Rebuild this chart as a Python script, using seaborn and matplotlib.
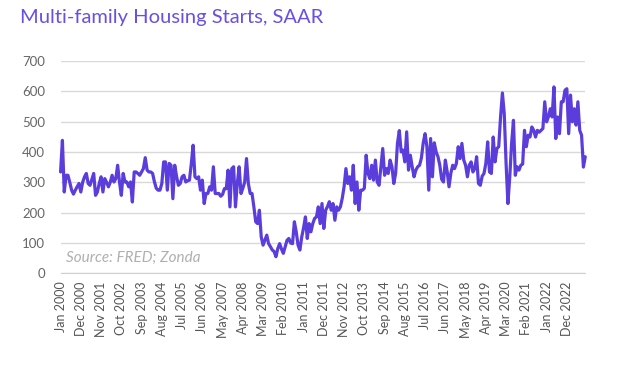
import numpy as np
import pandas as pd
import matplotlib
matplotlib.use("Agg")
import matplotlib.pyplot as plt
import seaborn as sns

# monthly multi-family starts (thousands, SAAR), Jan 2000 - Oct 2023
y2000 = [334, 438, 268, 323, 323, 300, 274, 261, 274, 285, 296, 268]
y2001 = [300, 318, 329, 296, 290, 310, 329, 257, 268, 296, 318, 268]
y2002 = [312, 300, 285, 300, 323, 301, 312, 356, 301, 257, 329, 301]
y2003 = [301, 285, 301, 235, 334, 334, 329, 323, 334, 345, 381, 340]
y2004 = [334, 334, 329, 301, 280, 274, 274, 296, 367, 367, 274, 362]
y2005 = [356, 246, 356, 320, 290, 296, 318, 323, 301, 305, 307, 360]
y2006 = [422, 318, 312, 318, 274, 307, 230, 263, 263, 285, 274, 351]
y2007 = [263, 263, 263, 254, 260, 279, 279, 340, 219, 345, 351, 219]
y2008 = [296, 351, 263, 280, 300, 378, 296, 263, 263, 219, 170, 164]
y2009 = [208, 120, 93, 110, 126, 98, 88, 77, 72, 55, 82, 98]
y2010 = [80, 66, 88, 109, 115, 100, 98, 170, 137, 93, 77, 120]
y2011 = [150, 186, 115, 164, 137, 164, 181, 186, 219, 164, 230, 148]
y2012 = [208, 220, 236, 208, 230, 175, 219, 208, 219, 247, 285, 345]
y2013 = [296, 318, 274, 356, 230, 301, 208, 274, 274, 280, 389, 329]
y2014 = [312, 356, 307, 373, 301, 290, 350, 411, 323, 345, 329, 373]
y2015 = [351, 296, 329, 428, 470, 400, 406, 367, 466, 340, 389, 351]
y2016 = [318, 340, 351, 356, 380, 430, 460, 417, 274, 444, 318, 430]
y2017 = [400, 384, 356, 310, 301, 373, 335, 285, 330, 356, 345, 362]
y2018 = [417, 378, 428, 373, 356, 318, 356, 367, 334, 345, 384, 296]
y2019 = [290, 320, 329, 362, 433, 334, 329, 449, 367, 411, 417, 515]
y2020 = [594, 526, 362, 230, 318, 428, 504, 323, 351, 340, 356, 360]
y2021 = [471, 417, 455, 449, 482, 471, 449, 471, 465, 471, 477, 565]
y2022 = [499, 515, 542, 515, 614, 444, 515, 460, 565, 565, 603, 608]
y2023 = [460, 587, 499, 542, 488, 565, 471, 455, 350, 384]

starts = (y2000 + y2001 + y2002 + y2003 + y2004 + y2005 + y2006 + y2007
          + y2008 + y2009 + y2010 + y2011 + y2012 + y2013 + y2014 + y2015
          + y2016 + y2017 + y2018 + y2019 + y2020 + y2021 + y2022 + y2023)
months = pd.date_range("2000-01-01", periods=len(starts), freq="MS")
y_ticks = [0, 100, 200, 300, 400, 500, 600, 700]

df = pd.DataFrame({"idx": np.arange(len(starts)), "starts": starts})
tick_pos = list(range(0, len(starts), 11))
tick_labels = [months[i].strftime("%b %Y") for i in tick_pos]

sns.set_style("white")
plt.rcParams["font.family"] = ["Lato", "DejaVu Sans"]

purple = "#5b3ddb"
fig = plt.figure(figsize=(6.18, 3.66), dpi=100)
ax = fig.add_axes([0.098, 0.253, 0.849, 0.581])

sns.lineplot(data=df, x="idx", y="starts", color=purple, linewidth=2.3,
             ax=ax, clip_on=False, solid_joinstyle="round")

ax.set_xlim(0, len(starts) - 1)
ax.set_ylim(0, 700)
ax.set_yticks(y_ticks)
ax.yaxis.grid(True, color="#d9d9d9", linewidth=1)
ax.set_xticks(tick_pos)
ax.set_xticklabels(tick_labels, rotation=90, fontsize=9, color="#555555")
ax.tick_params(axis="y", labelsize=9.5, labelcolor="#666666", length=0, pad=11)
ax.tick_params(axis="x", length=4, color="#d0d0d0", width=1, pad=2)
ax.set_xlabel("")
ax.set_ylabel("")
for side in ["top", "right", "left"]:
    ax.spines[side].set_visible(False)
ax.spines["bottom"].set_color("#d0d0d0")

ax.text(0.01, 0.072, "Source: FRED; Zonda", transform=ax.transAxes,
        fontsize=11, style="italic", color="#b0b0b0", va="center")

fig.text(20 / 618, 1 - 18 / 366, "Multi-family Housing Starts, SAAR",
         fontsize=14.5, color="#6a4fe3", va="center", ha="left")

fig.savefig("out.png", dpi=100)
